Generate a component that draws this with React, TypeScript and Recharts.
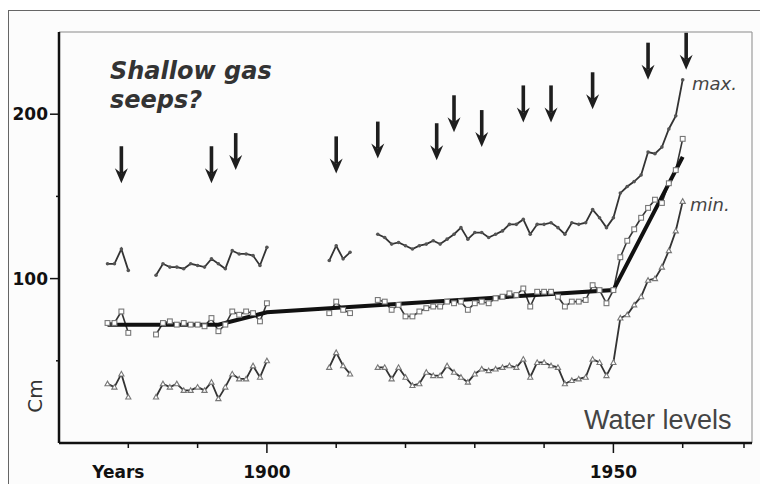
import React from 'react';
import {
  ComposedChart,
  Line,
  Scatter,
  XAxis,
  YAxis,
  ReferenceLine,
} from 'recharts';

// annual water levels (cm), one value per year from 1877 to 1960, null = no record
const firstYear = 1877;

const maxLevels = [
  109, 109, 118, 105,
  null, null, null,
  102, 109, 107, 107, 106, 109, 108, 107, 112, 109, 106, 117, 115, 115, 114, 108, 119,
  null, null, null, null, null, null, null, null,
  111, 120, 112, 116,
  null, null, null,
  127, 125, 121, 122, 120, 118, 120, 121, 123, 121,
  124, 127, 131, 124, 128, 128, 125, 127, 129, 133,
  133, 136, 127, 133, 133, 134, 131, 127, 134, 133,
  134, 142, 137, 131, 137, 152, 156, 159, 163, 177,
  176, 180, 191, 199, 221,
];

const meanLevels = [
  73, 73, 80, 67,
  null, null, null,
  66, 73, 74, 72, 73, 72, 72, 71, 76, 68, 72, 80, 78, 80, 79, 74, 85,
  null, null, null, null, null, null, null, null,
  79, 86, 81, 79,
  null, null, null,
  87, 86, 81, 84, 77, 77, 80, 82, 83, 83,
  86, 85, 86, 81, 85, 86, 85, 88, 89, 91,
  90, 94, 83, 92, 92, 92, 89, 83, 86, 86,
  87, 96, 93, 85, 93, 113, 123, 130, 137, 143,
  148, 146, 158, 166, 185,
];

const minLevels = [
  36, 34, 42, 28,
  null, null, null,
  28, 36, 34, 36, 32, 32, 34, 32, 37, 27, 34, 42, 39, 39, 47, 40, 50,
  null, null, null, null, null, null, null, null,
  46, 55, 47, 42,
  null, null, null,
  46, 46, 39, 46, 40, 35, 36, 43, 41, 41,
  47, 43, 40, 37, 42, 45, 44, 45, 46, 47,
  46, 51, 40, 49, 49, 47, 46, 36, 38, 39,
  40, 51, 49, 41, 49, 76, 78, 84, 89, 99,
  100, 107, 117, 129, 147,
];

// piecewise trend of the mean level
const trendYears = [1877, 1893, 1900, 1950, 1960];
const trendLevels = [72, 72, 79.5, 93, 174];

// shallow gas seep events (arrow tip level)
const seepYears = [1879, 1892, 1895.5, 1910, 1916, 1924.5, 1927, 1931, 1937, 1941, 1947, 1955, 1960.5];
const seepTips = [158, 158, 166, 164, 173, 172, 189, 180, 195, 195, 203, 221, 227];

const xTicks = [1880, 1890, 1900, 1910, 1920, 1930, 1940, 1950, 1960, 1970];
const xTickLabels: Record<number, string> = { 1880: 'Years', 1900: '1900', 1950: '1950' };
const yTicks = [50, 100, 150, 200];
const yTickLabels: Record<number, string> = { 100: '100', 200: '200' };

const rows = maxLevels.map((v, i) => {
  const year = firstYear + i;
  const t = trendYears.indexOf(year);
  return {
    year,
    max: v,
    mean: meanLevels[i],
    min: minLevels[i],
    trend: t >= 0 ? trendLevels[t] : null,
  };
});

const seeps = seepYears.map((year, i) => ({ year, tip: seepTips[i] }));

const INK = '#333';
const FONT = '"DejaVu Sans", Arial, sans-serif';

function XTick({ x, y, payload }: any) {
  const v = payload.value;
  const major = v === 1900 || v === 1950;
  const label = xTickLabels[v];
  return (
    <g>
      <line x1={x} x2={x} y1={y} y2={y + (major ? 10 : 5)} stroke="#111" strokeWidth={1.5} />
      {label && (
        <text
          x={v === 1880 ? x - 10 : x}
          y={478}
          textAnchor="middle"
          fontFamily={FONT}
          fontWeight="bold"
          fontSize={17}
          fill="#111"
        >
          {label}
        </text>
      )}
    </g>
  );
}

function YTick({ x, y, payload }: any) {
  const label = yTickLabels[payload.value];
  return (
    <g>
      <line x1={x - (label ? 9 : 3)} x2={x} y1={y} y2={y} stroke="#111" strokeWidth={1.5} />
      {label && (
        <text
          x={x - 11}
          y={y + 6}
          textAnchor="end"
          fontFamily={FONT}
          fontWeight="bold"
          fontSize={17}
          fill="#111"
        >
          {label}
        </text>
      )}
    </g>
  );
}

function SeepArrow({ cx, cy }: any) {
  if (cx == null || cy == null) return null;
  return (
    <g fill="#1e1e1e">
      <rect x={cx - 1.8} y={cy - 37} width={3.6} height={27} />
      <path d={`M${cx - 6.5},${cy - 15} L${cx},${cy} L${cx + 6.5},${cy - 15} L${cx},${cy - 10} Z`} />
    </g>
  );
}

const dotMax = (p: any) =>
  p.cx == null || p.cy == null || p.value == null ? (
    <g key={p.index} />
  ) : (
    <circle key={p.index} cx={p.cx} cy={p.cy} r={1.8} fill="#555" />
  );

const dotMean = (p: any) =>
  p.cx == null || p.cy == null || p.value == null ? (
    <g key={p.index} />
  ) : (
    <rect key={p.index} x={p.cx - 2.4} y={p.cy - 2.4} width={4.8} height={4.8} fill="#fff" stroke="#777" strokeWidth={1.1} />
  );

const dotMin = (p: any) =>
  p.cx == null || p.cy == null || p.value == null ? (
    <g key={p.index} />
  ) : (
    <path
      key={p.index}
      d={`M${p.cx - 2.6},${p.cy + 2} L${p.cx},${p.cy - 2.6} L${p.cx + 2.6},${p.cy + 2} Z`}
      fill="#fff"
      stroke="#777"
      strokeWidth={1.1}
    />
  );

export default function App() {
  return (
    <div
      style={{
        position: 'absolute',
        left: 0,
        top: 0,
        width: 760,
        height: 484,
        overflow: 'hidden',
        background: '#fff',
      }}
    >
      <div
        style={{
          position: 'absolute',
          left: 8,
          top: 10,
          width: 800,
          height: 520,
          borderTop: '1.5px solid #666',
          borderLeft: '1.5px solid #666',
          background: '#fcfcfc',
        }}
      />
      <div style={{ position: 'absolute', left: 0, top: 0 }}>
        <ComposedChart
          width={760}
          height={484}
          data={rows}
          margin={{ top: 32, right: 8, bottom: 0, left: 9 }}
        >
          <XAxis
            dataKey="year"
            type="number"
            domain={[1870, 1970]}
            ticks={xTicks}
            allowDataOverflow
            height={41}
            tickSize={0}
            tickMargin={0}
            tickLine={false}
            tick={<XTick />}
            axisLine={{ stroke: '#111', strokeWidth: 2.5 }}
          />
          <YAxis
            type="number"
            domain={[0, 250]}
            ticks={yTicks}
            allowDataOverflow
            width={50}
            tickSize={0}
            tickMargin={0}
            tickLine={false}
            tick={<YTick />}
            axisLine={{ stroke: '#111', strokeWidth: 2.5 }}
          />
          <ReferenceLine y={250} stroke="#8a8a8a" strokeWidth={1.2} />
          <ReferenceLine x={1970} stroke="#9a9a9a" strokeWidth={1.2} />
          <Line
            dataKey="max"
            stroke={INK}
            strokeWidth={1.8}
            dot={dotMax}
            activeDot={false}
            connectNulls={false}
            isAnimationActive={false}
          />
          <Line
            dataKey="mean"
            stroke={INK}
            strokeWidth={1.6}
            dot={dotMean}
            activeDot={false}
            connectNulls={false}
            isAnimationActive={false}
          />
          <Line
            dataKey="min"
            stroke={INK}
            strokeWidth={1.8}
            dot={dotMin}
            activeDot={false}
            connectNulls={false}
            isAnimationActive={false}
          />
          <Line
            dataKey="trend"
            stroke="#111"
            strokeWidth={4}
            dot={false}
            activeDot={false}
            connectNulls
            isAnimationActive={false}
          />
          <Scatter
            data={seeps}
            dataKey="tip"
            shape={<SeepArrow />}
            isAnimationActive={false}
          />
        </ComposedChart>
      </div>
      <svg
        width={760}
        height={484}
        style={{ position: 'absolute', left: 0, top: 0, pointerEvents: 'none' }}
      >
        <text
          fontFamily={FONT}
          fontWeight="bold"
          fontStyle="italic"
          fontSize={24}
          fill="#333"
        >
          <tspan x={110} y={79}>Shallow gas</tspan>
          <tspan x={110} y={108}>seeps?</tspan>
        </text>
        <text x={692} y={90} fontFamily={FONT} fontStyle="italic" fontSize={18} fill="#444">
          max.
        </text>
        <text x={690} y={211} fontFamily={FONT} fontStyle="italic" fontSize={18} fill="#444">
          min.
        </text>
        <text
          x={584}
          y={429}
          fontFamily='"Liberation Sans", Arial, sans-serif'
          fontSize={27}
          fill="#444"
        >
          Water levels
        </text>
        <text
          transform="translate(42,396) rotate(-90)"
          textAnchor="middle"
          fontFamily={FONT}
          fontSize={20}
          fill="#333"
        >
          Cm
        </text>
      </svg>
    </div>
  );
}
